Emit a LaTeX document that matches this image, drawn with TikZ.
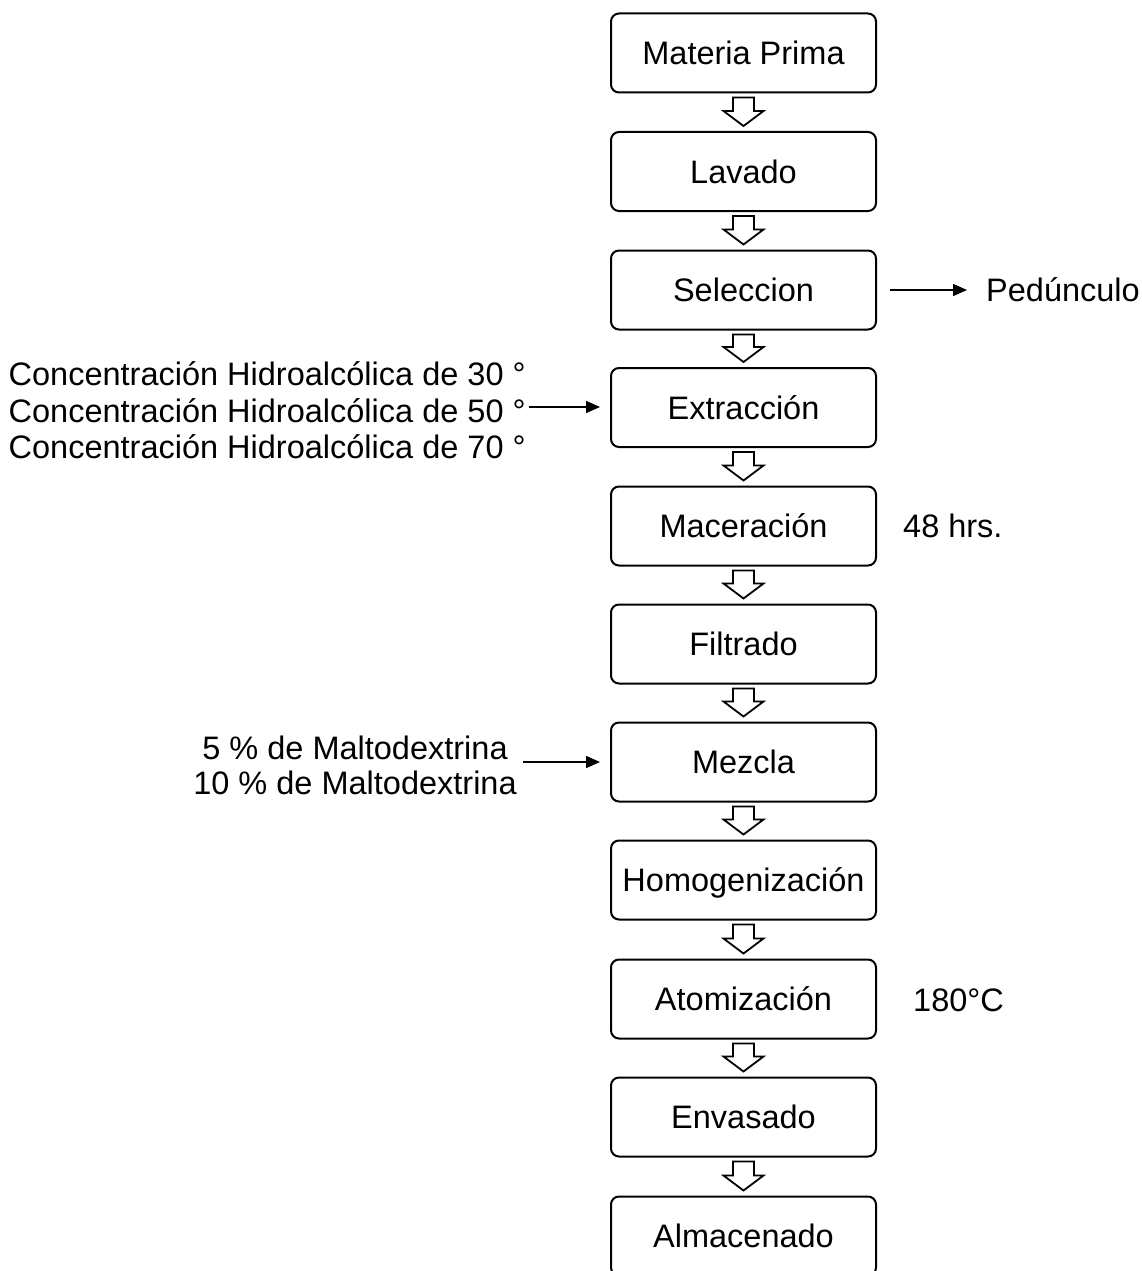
\documentclass[tikz,border=0pt]{standalone}
\usepackage{fontspec}
\setmainfont{Liberation Sans}
\usetikzlibrary{calc,arrows.meta}
\begin{document}
\begin{tikzpicture}[x=1pt,y=-1pt,
  every node/.style={font=\fontsize{32.5}{37}\selectfont},
  box/.style={draw,line width=2pt,rounded corners=8pt,minimum width=265pt,minimum height=79pt,text height=23.3pt,text depth=0pt,inner sep=0pt,fill=white},
  lbl/.style={inner sep=0pt,anchor=base west},
  clbl/.style={inner sep=0pt,anchor=base},
  blk/.style={line width=1.8pt,line join=miter,to path={let \p1=(\tikztostart),\p2=(\tikztotarget) in
     (\x1-10.5pt,\y1-4pt) -- (\x1+10.5pt,\y1-4pt) -- (\x1+10.5pt,\y2+20pt) -- (\x1+20pt,\y2+20pt)
     -- (\x1,\y2+5pt) -- (\x1-20pt,\y2+20pt) -- (\x1-10.5pt,\y2+20pt) -- cycle}},
  arr/.style={line width=1.5pt,-{Triangle[length=14pt,width=12pt]}}]
\useasboundingbox (0,0) rectangle (1142,1271);

\node[box] (b1) at (743.5,53) {Materia Prima};
\node[box] (b2) at (743.5,171.5) {Lavado};
\node[box] (b3) at (743.5,290) {Seleccion};
\node[box] (b4) at (743.5,407.5) {Extracción};
\node[box] (b5) at (743.5,526) {Maceración};
\node[box] (b6) at (743.5,644) {Filtrado};
\node[box] (b7) at (743.5,762) {Mezcla};
\node[box] (b8) at (743.5,880) {Homogenización};
\node[box] (b9) at (743.5,999) {Atomización};
\node[box] (b10) at (743.5,1117) {Envasado};
\node[box] (b11) at (743.5,1236) {Almacenado};

\draw[blk] (b1.south) to (b2.north);
\draw[blk] (b2.south) to (b3.north);
\draw[blk] (b3.south) to (b4.north);
\draw[blk] (b4.south) to (b5.north);
\draw[blk] (b5.south) to (b6.north);
\draw[blk] (b6.south) to (b7.north);
\draw[blk] (b7.south) to (b8.north);
\draw[blk] (b8.south) to (b9.north);
\draw[blk] (b9.south) to (b10.north);
\draw[blk] (b10.south) to (b11.north);

\node[lbl] (ped) at (986,301.6) {Pedúnculo};
\coordinate (ps) at (890,290);
\draw[arr,shorten >=19pt] (ps) -- (ps -| ped.west);

\node[lbl] (c1) at (8.5,385.6) {Concentración Hidroalcólica de 30 °};
\node[lbl] (c2) at (8.5,422.3) {Concentración Hidroalcólica de 50 °};
\node[lbl] (c3) at (8.5,458.6) {Concentración Hidroalcólica de 70 °};
\coordinate (cs) at (529,407);
\draw[arr,shorten >=10pt] (cs) -- (cs -| b4.west);

\node[lbl] (hrs) at (903,537.6) {48 hrs.};

\node[clbl] (m1) at (355,759.3) {5 \% de Maltodextrina};
\node[clbl] (m2) at (355,794.3) {10 \% de Maltodextrina};
\coordinate (ms) at (523,762);
\draw[arr,shorten >=10pt] (ms) -- (ms -| b7.west);

\node[lbl] (temp) at (913,1011.6) {180°C};
\end{tikzpicture}
\end{document}
